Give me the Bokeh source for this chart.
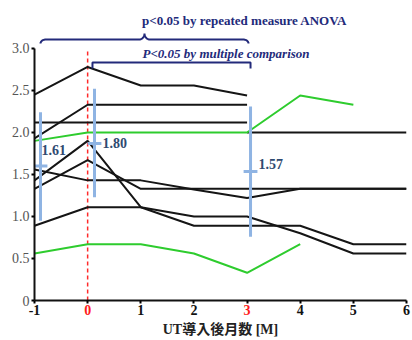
import numpy as np
from bokeh.plotting import figure
from bokeh.models import FixedTicker, Label, Range1d, LinearAxis
from bokeh.embed import file_html
from bokeh.resources import INLINE

# ---------------- data ----------------
months = [-1, 0, 1, 2, 3, 4, 5, 6]
black_series = [
    ([-1, 0, 1, 2, 3], [2.45, 2.78, 2.56, 2.56, 2.44]),
    ([-1, 0, 1, 2, 3], [1.93, 2.33, 2.33, 2.33, 2.33]),
    ([-1, 0, 1, 2, 3], [2.12, 2.12, 2.12, 2.12, 2.12]),
    ([3, 4, 5, 6], [2.0, 2.0, 2.0, 2.0]),
    (months, [1.43, 1.90, 1.11, 0.89, 0.89, 0.89, 0.67, 0.67]),
    (months, [0.89, 1.11, 1.11, 1.00, 1.00, 0.80, 0.56, 0.56]),
    (months, [1.33, 1.67, 1.33, 1.33, 1.33, 1.33, 1.33, 1.33]),
    (months, [1.56, 1.43, 1.43, 1.32, 1.22, 1.33, 1.33, 1.33]),
]
green_series = [
    ([-1, 0, 1, 2, 3, 4, 5], [1.90, 2.00, 2.00, 2.00, 2.00, 2.44, 2.33]),
    ([-1, 0, 1, 2, 3, 4], [0.56, 0.67, 0.67, 0.56, 0.33, 0.67]),
]
err_x = [-0.887, 0.129, 3.065]
err_mean = [1.60, 1.87, 1.535]
err_lo = [0.95, 1.23, 0.76]
err_hi = [2.24, 2.52, 2.31]
err_labels = ["1.61", "1.80", "1.57"]
err_label_x = [-0.868, 0.28, 3.215]
err_label_y = [1.79, 1.88, 1.619]

x_ticks = [-1, 0, 1, 2, 3, 4, 5, 6]
red_ticks = [0, 3]
y_ticks = [0, 0.5, 1.0, 1.5, 2.0, 2.5, 3.0]
y_tick_labels = ["0", "0.5", "1.0", "1.5", "2.0", "2.5", "3.0"]

anova_text = "p<0.05 by repeated measure ANOVA"
anova_span = (-0.887, 3.027)
multi_text = "P<0.05 by multiple comparison"
multi_span = (0.091, 3.065)
x_label = "UT導入後月数 [M]"

# ---------------- figure ----------------
SERIF = "Liberation Serif"
YTOP = 3.571
p = figure(width=412, height=340, output_backend="svg", toolbar_location=None,
           x_range=Range1d(-1, 6), y_range=Range1d(0, YTOP),
           min_border_left=34, min_border_right=6, min_border_top=0,
           min_border_bottom=40)
p.outline_line_color = None
p.xgrid.visible = False
p.ygrid.visible = False
p.background_fill_color = "white"

# primary x axis (black tick labels)
xa = p.xaxis[0]
xa.ticker = FixedTicker(ticks=x_ticks)
xa.major_label_overrides = {t: ("" if t in red_ticks else str(t)) for t in x_ticks}
xa.axis_line_width = 2
xa.axis_line_color = "#111111"
xa.major_tick_out = 3
xa.major_tick_in = 0
xa.major_tick_line_width = 2
xa.minor_tick_line_color = None
xa.major_label_text_font = SERIF
xa.major_label_text_font_style = "bold"
xa.major_label_text_font_size = "14px"
xa.major_label_text_color = "#111111"
xa.major_label_standoff = 1

# secondary x axis: red labels pulled up into the first row, plus axis title
xr = LinearAxis(ticker=FixedTicker(ticks=red_ticks))
xr.axis_line_color = None
xr.major_tick_line_color = None
xr.minor_tick_line_color = None
xr.major_tick_out = 0
xr.major_tick_in = 0
xr.major_label_text_font = SERIF
xr.major_label_text_font_style = "bold"
xr.major_label_text_font_size = "14px"
xr.major_label_text_color = "#ff1a1a"
xr.major_label_standoff = -13
xr.axis_label = x_label
xr.axis_label_text_font = "'Liberation Serif', 'Noto Sans CJK JP'"
xr.axis_label_text_font_style = "bold"
xr.axis_label_text_font_size = "14px"
xr.axis_label_text_color = "#222222"
xr.axis_label_standoff = 4
p.add_layout(xr, "below")

ya = p.yaxis[0]
ya.ticker = FixedTicker(ticks=y_ticks)
ya.major_label_overrides = {t: s for t, s in zip(y_ticks, y_tick_labels)}
ya.bounds = (0, 3)
ya.axis_line_width = 2
ya.axis_line_color = "#111111"
ya.major_tick_out = 3
ya.major_tick_in = 0
ya.major_tick_line_width = 2
ya.minor_tick_line_color = None
ya.major_label_text_font = SERIF
ya.major_label_text_font_size = "14px"
ya.major_label_text_color = "#555555"
ya.major_label_standoff = 2

# red dashed line at month 0
p.line([0, 0], [0, 3], line_color="#ff2a2a", line_width=1.5, line_dash="4 3")

# series
for xs, ys in black_series:
    p.line(xs, ys, line_color="#151515", line_width=2)
for xs, ys in green_series:
    p.line(xs, ys, line_color="#2ecc2e", line_width=2)

# error bars
EB = "#8fb4e3"
p.segment(err_x, err_lo, err_x, err_hi, line_color=EB, line_width=3)
hw = 0.13
p.segment([x - hw for x in err_x], err_mean, [x + hw for x in err_x], err_mean,
          line_color=EB, line_width=3)
for lx, ly, t in zip(err_label_x, err_label_y, err_labels):
    p.add_layout(Label(x=lx, y=ly, text=t, text_font=SERIF, text_font_style="bold",
                       text_font_size="14px", text_color="#2f4a70",
                       text_align="left", text_baseline="middle"))

NAVY = "#232a7a"
# curly brace for ANOVA
def brace(x0, x1, y_end, y_mid, y_peak, dx=0.1, n=12):
    xc = (x0 + x1) / 2
    t = np.linspace(0, np.pi / 2, n)
    lx = x0 + dx * (1 - np.cos(t))
    ly = y_end + (y_mid - y_end) * np.sin(t)
    cx = xc - dx + dx * np.sin(t)
    cy = y_mid + (y_peak - y_mid) * (1 - np.cos(t))
    xs = np.concatenate([lx, cx, (2 * xc - cx)[::-1], (2 * xc - lx)[::-1]])
    ys = np.concatenate([ly, cy, cy[::-1], ly[::-1]])
    return xs, ys

bx, by = brace(anova_span[0], anova_span[1], 3.059, 3.107, 3.178)
p.line(bx, by, line_color=NAVY, line_width=2)
p.add_layout(Label(x=2.952, y=3.333, text=anova_text,
                   text_font=SERIF, text_font_style="bold", text_font_size="13px",
                   text_color=NAVY, text_align="center", text_baseline="middle"))

# square bracket for multiple comparison
p.line([multi_span[0], multi_span[0], multi_span[1], multi_span[1]],
       [2.762, 2.833, 2.833, 2.762], line_color=NAVY, line_width=2)
p.add_layout(Label(x=2.604, y=2.94, text=multi_text,
                   text_font=SERIF, text_font_style="bold italic", text_font_size="13px",
                   text_color=NAVY, text_align="center", text_baseline="middle"))

open("out.html", "w").write(file_html(p, INLINE))
